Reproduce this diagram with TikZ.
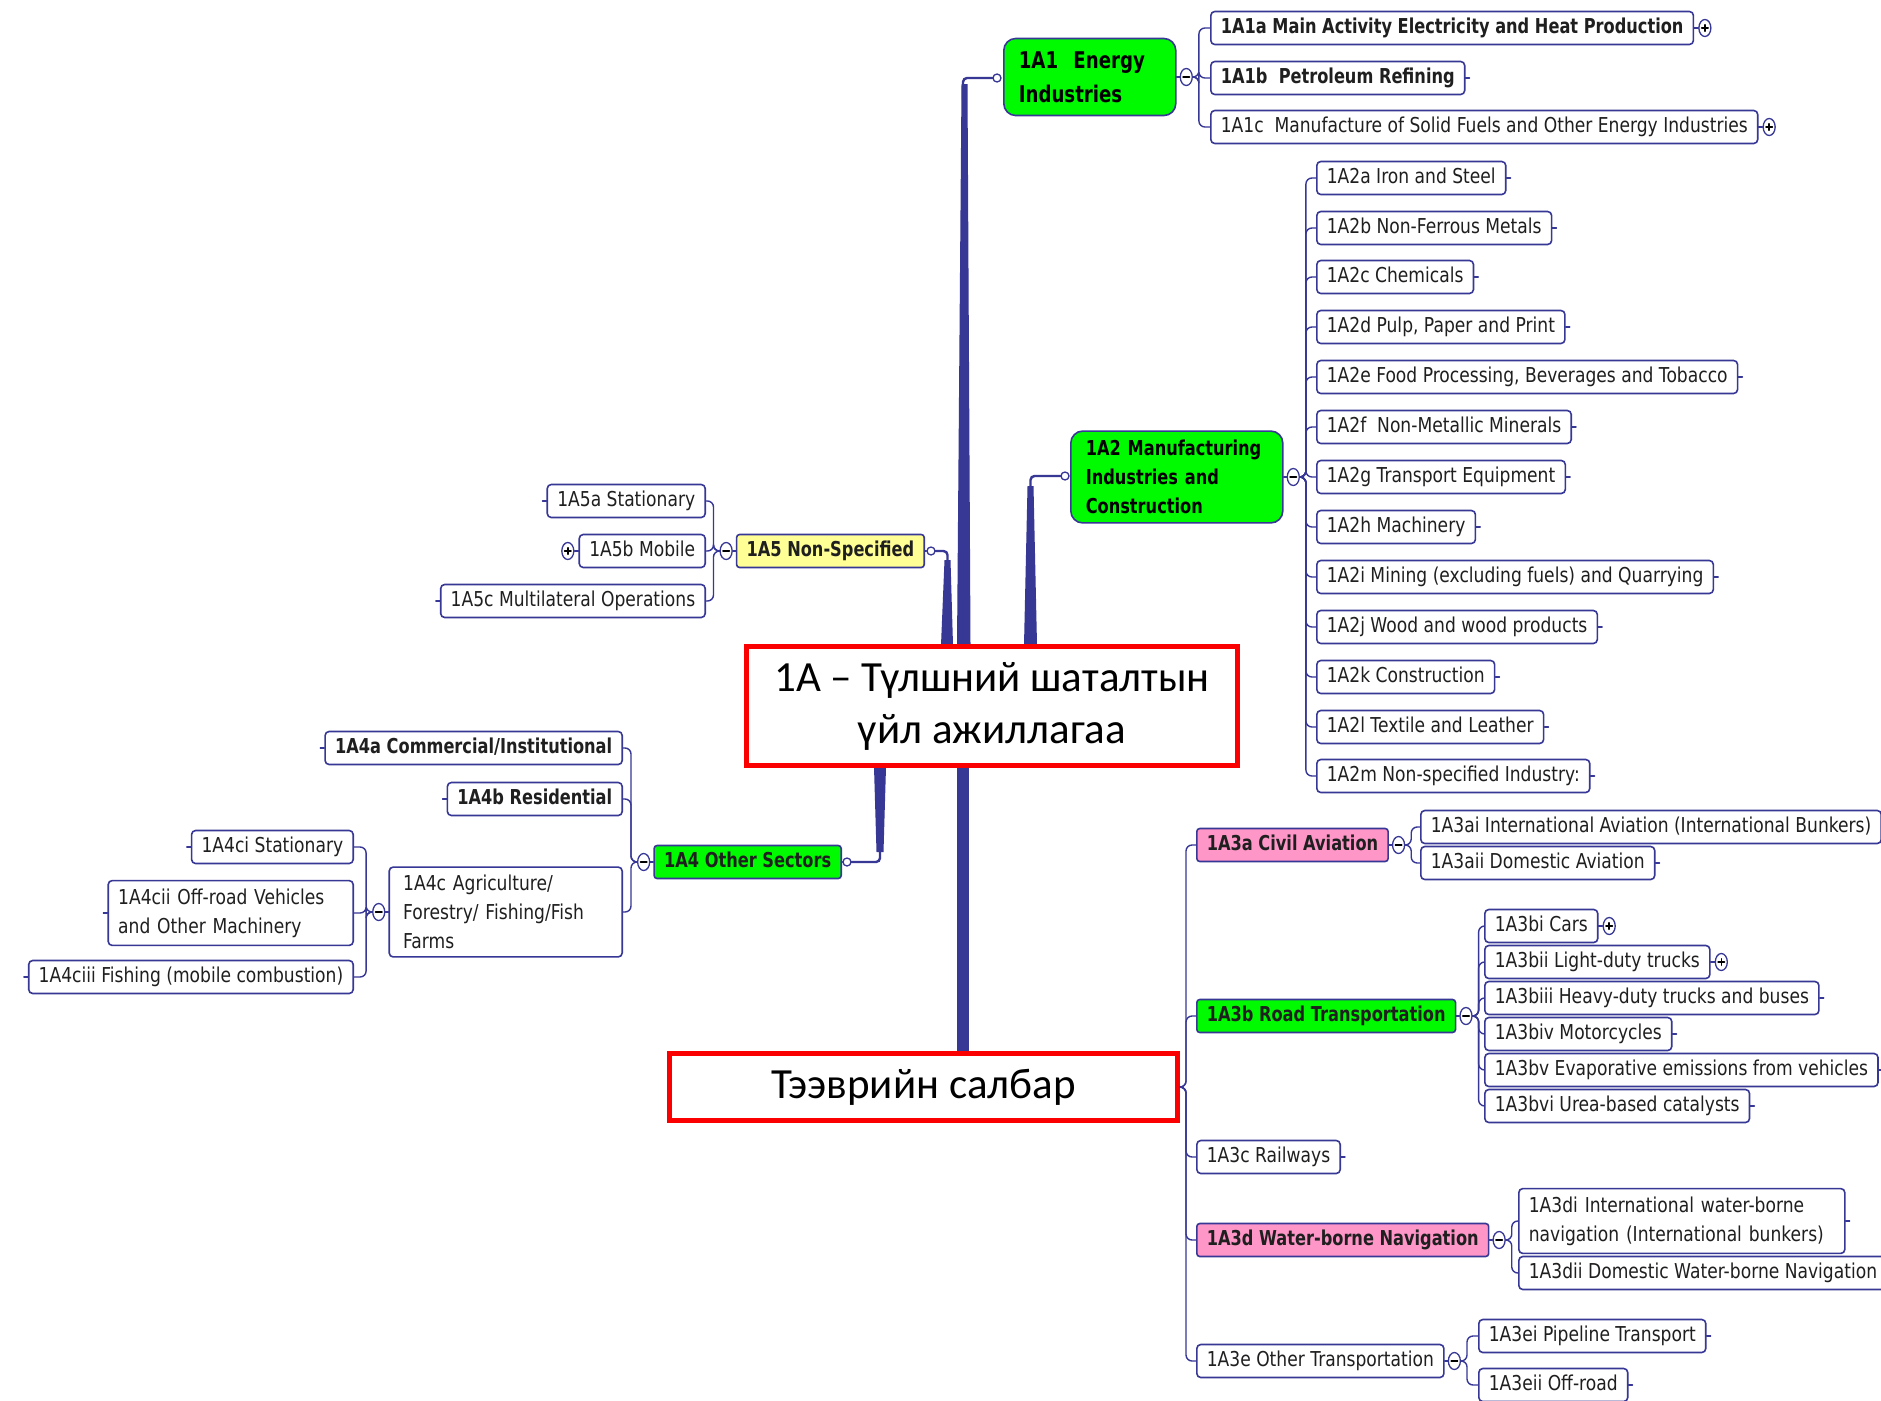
\documentclass[tikz,border=0pt]{standalone}
\usepackage{fontspec}
\setmainfont{DejaVu Sans}
\newfontfamily\mmreg{DejaVu Sans}[FakeStretch=0.835]
\newfontfamily\mmbf{DejaVu Sans}[FakeStretch=0.79]
\newfontfamily\calibfont{Carlito}
\usetikzlibrary{shapes.geometric,calc}
\definecolor{mmblue}{RGB}{55,55,150}
\definecolor{mmgreen}{RGB}{0,250,0}
\definecolor{mmpink}{RGB}{255,150,200}
\definecolor{mmyellow}{RGB}{255,255,150}
\definecolor{boxred}{RGB}{250,0,0}
\tikzset{
  box/.style={draw=mmblue, line width=1.6, fill=white, rounded corners=4, inner xsep=10},
  leaf/.style={box, font=\mmreg\fontsize{20.5}{29}\selectfont, text=black!88, inner ysep=0, minimum height=33, text height=15, text depth=4.5},
  leafb/.style={leaf, font=\mmbf\bfseries\fontsize{20.5}{29}\selectfont},
  leafml/.style={box, font=\mmreg\fontsize{20.5}{29}\selectfont, text=black!88, align=left, inner ysep=8},
  greenb/.style={leafb, fill=mmgreen, rounded corners=3},
  pinkb/.style={leafb, fill=mmpink, rounded corners=3},
  yellowb/.style={leafb, fill=mmyellow, rounded corners=3},
  bigtopic/.style={box, fill=mmgreen, rounded corners=12, align=left, inner xsep=15},
  collapse/.style={ellipse, draw=mmblue, line width=1.3, fill=white, minimum width=12, minimum height=17, inner sep=0},
  minusc/.style={collapse, path picture={\draw[black, line width=1.6] ([xshift=-3.2pt]path picture bounding box.center) -- ([xshift=3.2pt]path picture bounding box.center);}},
  plusc/.style={collapse, path picture={\draw[black, line width=1.6] ([xshift=-3.2pt]path picture bounding box.center) -- ([xshift=3.2pt]path picture bounding box.center) ([yshift=-3.2pt]path picture bounding box.center) -- ([yshift=3.2pt]path picture bounding box.center);}},
  hdot/.style={circle, draw=mmblue, line width=1.3, fill=white, minimum size=8, inner sep=0},
  conn/.style={draw=mmblue, line width=1.4, rounded corners=6},
  stub/.style={draw=mmblue, line width=1.4},
  trunk/.style={fill=mmblue},
  trunkline/.style={draw=mmblue, line width=2.4, rounded corners=4},
  redbox/.style={draw=boxred, line width=5, fill=white, font=\calibfont\fontsize{43}{52}\selectfont, align=center, inner sep=0},
}
\begin{document}
\begin{tikzpicture}[x=1pt,y=-1pt,line cap=round]
\clip (0,0) rectangle (1881,1400);
\fill[white] (0,0) rectangle (1881,1400);

% ---------- trunk end dots ----------
\node[hdot] (d1) at (997,78) {};
\node[hdot] (d5) at (931,551) {};
\node[hdot] (d2) at (1065,476) {};
\node[hdot] (d4) at (847,862) {};

% ---------- trunks ----------
\fill[trunk] (957,645) -- (961.5,84) -- (967.5,84) -- (970.5,645) -- cycle;
\draw[trunkline] (963,100) -- (963,78) -- (d1.west);
\fill[trunk] (941,645) -- (944.5,560) -- (950.5,560) -- (953,645) -- cycle;
\draw[trunkline] (947.5,575) -- (947.5,551) -- (d5.east);
\fill[trunk] (1024,645) -- (1027.5,486) -- (1033.5,486) -- (1037,645) -- cycle;
\draw[trunkline] (1030.5,500) -- (1030.5,476) -- (d2.west);
\fill[trunk] (874,767) -- (876.5,852) -- (883.5,852) -- (886,767) -- cycle;
\draw[trunkline] (880,840) -- (880,862) -- (d4.east);
\fill[trunk] (957,767) rectangle (969,1052);

% ---------- hub ----------
\node[redbox, minimum width=491, minimum height=119] (hub) at (992,706) {1A – Түлшний шаталтын\\үйл ажиллагаа};
\node[redbox, minimum width=508, minimum height=67] (tv) at (923.5,1087) {Тээврийн салбар};

% ---------- 1A1 ----------
\node[bigtopic, anchor=west, font=\mmbf\bfseries\fontsize{23}{34}\selectfont, text width=142, inner ysep=13] (n1) at (1003,77) {1A1~~Energy\\Industries};
\node[minusc, anchor=west] (c1) at ([xshift=3pt]n1.east) {};
\draw[stub] (n1.east) -- (c1.west);
\node[leafb, anchor=west] (a1a) at (1210,28) {1A1a Main Activity Electricity and Heat Production};
\node[leafb, anchor=west] (a1b) at (1210,78) {1A1b~~Petroleum Refining};
\node[leaf, anchor=west] (a1c) at (1210,127) {1A1c~~Manufacture of Solid Fuels and Other Energy Industries};
\node[plusc, anchor=west] (p1a) at ([xshift=4pt]a1a.east) {};
\node[plusc, anchor=west] (p1c) at ([xshift=4pt]a1c.east) {};
\draw[stub] (a1a.east) -- (p1a.west);
\draw[stub] (a1c.east) -- (p1c.west);
\foreach \n in {a1a,a1b,a1c} \draw[conn] (c1.east) -- ++(6,0) |- (\n.west);

% ---------- 1A2 ----------
\node[bigtopic, anchor=west, font=\mmbf\bfseries\fontsize{20.5}{29}\selectfont, text width=182, inner ysep=9] (n2) at (1070,477) {1A2 Manufacturing\\Industries and\\Construction};
\node[minusc, anchor=west] (c2) at ([xshift=3pt]n2.east) {};
\draw[stub] (n2.east) -- (c2.west);
\node[leaf, anchor=west] (a2a) at (1316,178) {1A2a Iron and Steel};
\node[leaf, anchor=west] (a2b) at (1316,228) {1A2b Non-Ferrous Metals};
\node[leaf, anchor=west] (a2c) at (1316,277) {1A2c Chemicals};
\node[leaf, anchor=west] (a2d) at (1316,327) {1A2d Pulp, Paper and Print};
\node[leaf, anchor=west] (a2e) at (1316,377) {1A2e Food Processing, Beverages and Tobacco};
\node[leaf, anchor=west] (a2f) at (1316,427) {1A2f~~Non-Metallic Minerals};
\node[leaf, anchor=west] (a2g) at (1316,477) {1A2g Transport Equipment};
\node[leaf, anchor=west] (a2h) at (1316,527) {1A2h Machinery};
\node[leaf, anchor=west] (a2i) at (1316,577) {1A2i Mining (excluding fuels) and Quarrying};
\node[leaf, anchor=west] (a2j) at (1316,627) {1A2j Wood and wood products};
\node[leaf, anchor=west] (a2k) at (1316,677) {1A2k Construction};
\node[leaf, anchor=west] (a2l) at (1316,727) {1A2l Textile and Leather};
\node[leaf, anchor=west] (a2m) at (1316,776) {1A2m Non-specified Industry:};
\foreach \n in {a2a,a2b,a2c,a2d,a2e,a2f,a2g,a2h,a2i,a2j,a2k,a2l,a2m} {
  \draw[conn] (c2.east) -- ++(6,0) |- (\n.west);
  \draw[stub] (\n.east) -- ++(4,0);
}
\draw[stub] (a1b.east) -- ++(4,0);

% ---------- 1A5 ----------
\node[yellowb, anchor=east] (n5) at (925,551) {1A5 Non-Specified};
\draw[stub] (n5.east) -- (d5.west);
\node[minusc, anchor=east] (c5) at ([xshift=-3pt]n5.west) {};
\draw[stub] (n5.west) -- (c5.east);
\node[leaf, anchor=east] (a5a) at (706,501) {1A5a Stationary};
\node[leaf, anchor=east] (a5b) at (706,551) {1A5b Mobile};
\node[leaf, anchor=east] (a5c) at (706,601) {1A5c Multilateral Operations};
\node[plusc, anchor=east] (p5b) at ([xshift=-4pt]a5b.west) {};
\draw[stub] (a5b.west) -- (p5b.east);
\foreach \n in {a5a,a5b,a5c} \draw[conn] (c5.west) -- ++(-6,0) |- (\n.east);
\foreach \n in {a5a,a5c} \draw[stub] (\n.west) -- ++(-4,0);

% ---------- 1A4 ----------
\node[greenb, anchor=east] (n4) at (842,862) {1A4 Other Sectors};
\draw[stub] (n4.east) -- (d4.west);
\node[minusc, anchor=east] (c4) at ([xshift=-3pt]n4.west) {};
\draw[stub] (n4.west) -- (c4.east);
\node[leafb, anchor=east] (a4a) at (623,748) {1A4a Commercial/Institutional};
\node[leafb, anchor=east] (a4b) at (623,799) {1A4b Residential};
\node[leafml, anchor=east, text width=205, inner xsep=14] (a4c) at (623,912) {1A4c Agriculture/\\Forestry/ Fishing/Fish\\Farms};
\foreach \n in {a4a,a4b,a4c} \draw[conn] (c4.west) -- ++(-6,0) |- (\n.east);
\foreach \n in {a4a,a4b} \draw[stub] (\n.west) -- ++(-4,0);
\node[minusc, anchor=east] (c4c) at ([xshift=-3pt]a4c.west) {};
\draw[stub] (a4c.west) -- (c4c.east);
\node[leaf, anchor=east] (a4ci) at (354,847) {1A4ci Stationary};
\node[leafml, anchor=east, text width=225] (a4cii) at (354,913) {1A4cii Off-road Vehicles\\and Other Machinery};
\node[leaf, anchor=east] (a4ciii) at (354,977) {1A4ciii Fishing (mobile combustion)};
\foreach \n in {a4ci,a4cii,a4ciii} {
  \draw[conn] (c4c.west) -- ++(-6,0) |- (\n.east);
  \draw[stub] (\n.west) -- ++(-4,0);
}

% ---------- 1A3 ----------
\node[pinkb, anchor=west] (a3a) at (1196,845) {1A3a Civil Aviation};
\node[greenb, anchor=west] (a3b) at (1196,1016) {1A3b Road Transportation};
\node[leaf, anchor=west] (a3c) at (1196,1157) {1A3c Railways};
\node[pinkb, anchor=west] (a3d) at (1196,1240) {1A3d Water-borne Navigation};
\node[leaf, anchor=west] (a3e) at (1196,1361) {1A3e Other Transportation};
\foreach \n in {a3a,a3b,a3c,a3d,a3e} \draw[conn] (tv.east) -- ++(6,0) |- (\n.west);
\draw[stub] (a3c.east) -- ++(4,0);

\node[minusc, anchor=west] (c3a) at ([xshift=3pt]a3a.east) {};
\draw[stub] (a3a.east) -- (c3a.west);
\node[leaf, anchor=west] (a3ai) at (1420,827) {1A3ai International Aviation (International Bunkers)};
\node[leaf, anchor=west] (a3aii) at (1420,863) {1A3aii Domestic Aviation};
\foreach \n in {a3ai,a3aii} \draw[conn] (c3a.east) -- ++(6,0) |- (\n.west);
\draw[stub] (a3aii.east) -- ++(4,0);

\node[minusc, anchor=west] (c3b) at ([xshift=3pt]a3b.east) {};
\draw[stub] (a3b.east) -- (c3b.west);
\node[leaf, anchor=west] (a3bi) at (1484,926) {1A3bi Cars};
\node[leaf, anchor=west] (a3bii) at (1484,962) {1A3bii Light-duty trucks};
\node[leaf, anchor=west] (a3biii) at (1484,998) {1A3biii Heavy-duty trucks and buses};
\node[leaf, anchor=west] (a3biv) at (1484,1034) {1A3biv Motorcycles};
\node[leaf, anchor=west] (a3bv) at (1484,1070) {1A3bv Evaporative emissions from vehicles};
\node[leaf, anchor=west] (a3bvi) at (1484,1106) {1A3bvi Urea-based catalysts};
\node[plusc, anchor=west] (p3bi) at ([xshift=4pt]a3bi.east) {};
\node[plusc, anchor=west] (p3bii) at ([xshift=4pt]a3bii.east) {};
\draw[stub] (a3bi.east) -- (p3bi.west);
\draw[stub] (a3bii.east) -- (p3bii.west);
\foreach \n in {a3bi,a3bii,a3biii,a3biv,a3bv,a3bvi} \draw[conn] (c3b.east) -- ++(6,0) |- (\n.west);
\foreach \n in {a3biii,a3biv,a3bv,a3bvi} \draw[stub] (\n.east) -- ++(4,0);

\node[minusc, anchor=west] (c3d) at ([xshift=3pt]a3d.east) {};
\draw[stub] (a3d.east) -- (c3d.west);
\node[leafml, anchor=west, text width=306] (a3di) at (1518,1221) {1A3di International water-borne\\navigation (International bunkers)};
\node[leaf, anchor=west] (a3dii) at (1518,1273) {1A3dii Domestic Water-borne Navigation};
\foreach \n in {a3di,a3dii} \draw[conn] (c3d.east) -- ++(6,0) |- (\n.west);
\draw[stub] (a3di.east) -- ++(4,0);

\node[minusc, anchor=west] (c3e) at ([xshift=3pt]a3e.east) {};
\draw[stub] (a3e.east) -- (c3e.west);
\node[leaf, anchor=west] (a3ei) at (1478,1336) {1A3ei Pipeline Transport};
\node[leaf, anchor=west] (a3eii) at (1478,1385) {1A3eii Off-road};
\foreach \n in {a3ei,a3eii} {
  \draw[conn] (c3e.east) -- ++(6,0) |- (\n.west);
  \draw[stub] (\n.east) -- ++(4,0);
}
\end{tikzpicture}
\end{document}
